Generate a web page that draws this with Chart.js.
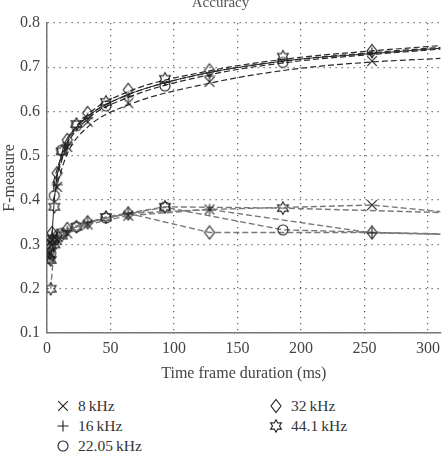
<!DOCTYPE html>
<html>
<head>
<meta charset="utf-8">
<script src="https://cdn.jsdelivr.net/npm/chart.js@4"></script>
<style>
body { margin: 0; background: #fff; }
#wrap { position: relative; width: 447px; height: 455px; overflow: hidden; font-family: "Liberation Serif", serif; color: #333; }
#graph { position: absolute; left: 0; top: -8px; }
.mk { position: absolute; }
.lt { position: absolute; font-size: 15.5px; line-height: 18px; white-space: nowrap; }
</style>
</head>
<body>
<div id="wrap">
<canvas id="graph" width="447" height="393"></canvas>
</div>
<script>
// frame durations (ms)
const durPow2 = [2, 4, 8, 16, 32, 64, 128, 256]          // 8, 16, 32 kHz
const durCd = [2.9, 5.8, 11.6, 23.2, 46.4, 92.9, 185.8]   // 22.05, 44.1 kHz
const xTicks = [0, 50, 100, 150, 200, 250, 300]

const rateLabels = ["8\u2009kHz", "16\u2009kHz", "22.05\u2009kHz", "32\u2009kHz", "44.1\u2009kHz"]
const rateMarks = ["x", "+", "o", "d", "h"]

// upper group (markers only)
const up8 = [0.28, 0.31, 0.43, 0.52, 0.577, 0.619, 0.667, 0.714]
const up16 = [0.285, 0.32, 0.435, 0.525, 0.585, 0.634, 0.68, 0.733]
const up22 = [0.30, 0.41, 0.513, 0.568, 0.613, 0.658, 0.711]
const up32 = [0.29, 0.326, 0.461, 0.536, 0.597, 0.649, 0.693, 0.737]
const up44 = [0.265, 0.385, 0.51, 0.572, 0.622, 0.674, 0.724]

// lower group (markers + grey dashed lines), lowAt310 = where each line ends at 310 ms
const low8 = [0.27, 0.30, 0.31, 0.325, 0.345, 0.365, 0.379, 0.389]
const low16 = [0.27, 0.30, 0.315, 0.33, 0.35, 0.37, 0.379, 0.326]
const low22 = [0.28, 0.31, 0.325, 0.34, 0.36, 0.384, 0.333]
const low32 = [0.27, 0.31, 0.32, 0.335, 0.35, 0.37, 0.327, 0.327]
const low44 = [0.20, 0.30, 0.32, 0.34, 0.362, 0.385, 0.382]
const lowAt310 = [0.374, 0.323, 0.323, 0.324, 0.372]

// fitted curves of the upper group
const fitX = [5, 8, 16, 32, 64, 128, 192, 256, 310]
const fit1 = [0.44, 0.47, 0.535, 0.593, 0.645, 0.692, 0.72, 0.737, 0.749]
const fit2 = [0.43, 0.46, 0.53, 0.588, 0.638, 0.688, 0.716, 0.733, 0.745]
const fit3 = [0.425, 0.455, 0.525, 0.583, 0.632, 0.683, 0.712, 0.729, 0.741]
const fit4 = [0.40, 0.435, 0.505, 0.565, 0.615, 0.664, 0.695, 0.712, 0.72]
const solidX = [2.9, 5.8, 11.6, 23.2, 46.4, 92.9, 185.8, 256, 310]
const solidY = [0.265, 0.40, 0.505, 0.565, 0.615, 0.665, 0.714, 0.731, 0.743]

function marker(kind) {
    const c = document.createElement("canvas")
    c.width = 16; c.height = 16
    const g = c.getContext("2d")
    g.strokeStyle = "#1e1e1e"
    g.lineWidth = 1.1
    g.translate(8, 8)
    g.beginPath()
    if (kind == "x") {
        g.moveTo(-4.8, -4.8); g.lineTo(4.8, 4.8); g.moveTo(4.8, -4.8); g.lineTo(-4.8, 4.8)
    } else if (kind == "+") {
        g.moveTo(-5.5, 0); g.lineTo(5.5, 0); g.moveTo(0, -5.5); g.lineTo(0, 5.5)
    } else if (kind == "o") {
        g.arc(0, 0, 5, 0, Math.PI * 2)
    } else if (kind == "d") {
        g.moveTo(0, -6.5); g.lineTo(5, 0); g.lineTo(0, 6.5); g.lineTo(-5, 0); g.closePath()
    } else {
        for (let k = 0; k < 12; k++) {
            const a = -Math.PI / 2 + k * Math.PI / 6
            const r = k % 2 ? 3.5 : 6.2
            k ? g.lineTo(r * Math.cos(a), r * Math.sin(a)) : g.moveTo(r * Math.cos(a), r * Math.sin(a))
        }
        g.closePath()
    }
    g.stroke()
    return c
}

const pts = (xs, ys) => ys.map((y, i) => ({x: xs[i], y: y}))

const upSets = [[durPow2, up8], [durPow2, up16], [durCd, up22], [durPow2, up32], [durCd, up44]]
const lowSets = [[durPow2, low8], [durPow2, low16], [durCd, low22], [durPow2, low32], [durCd, low44]]

let datasets = []
upSets.forEach(([xs, ys], i) => {
    datasets.push({
        data: pts(xs, ys),
        showLine: false,
        pointStyle: marker(rateMarks[i]),
        pointRadius: 5
    })
})
lowSets.forEach(([xs, ys], i) => {
    datasets.push({
        data: pts(xs.concat([310]), ys.concat([lowAt310[i]])),
        borderColor: "#7a7a7a",
        borderWidth: 1.4,
        borderDash: [6, 3],
        pointStyle: marker(rateMarks[i]),
        pointRadius: ys.map(() => 5).concat([0])
    })
})
;[fit1, fit2, fit3, fit4].forEach(f => {
    datasets.push({
        data: pts(fitX, f),
        borderColor: "#2a2a2a",
        borderWidth: 1.2,
        borderDash: [6, 3],
        pointRadius: 0,
        cubicInterpolationMode: "monotone"
    })
})
datasets.push({
    data: pts(solidX, solidY),
    borderColor: "#222",
    borderWidth: 1,
    pointRadius: 0,
    cubicInterpolationMode: "monotone"
})

const font = {family: "'Liberation Serif', serif", size: 16}

new Chart(document.getElementById("graph"), {
    type: "line",
    data: {datasets: datasets},
    options: {
        responsive: false,
        animation: false,
        layout: {padding: {left: 0, right: 6, top: 0, bottom: 0}},
        plugins: {
            legend: {display: false},
            tooltip: {enabled: false},
            title: {
                display: true,
                text: "Accuracy",
                color: "#555",
                font: {family: "'Liberation Serif', serif", size: 15, weight: "normal"},
                padding: {top: 2, bottom: 11}
            }
        },
        scales: {
            x: {
                type: "linear",
                min: 0,
                max: 310,
                ticks: {color: "#444", font: font, padding: 6},
                afterBuildTicks: s => { s.ticks = xTicks.map(v => ({value: v})) },
                afterFit: s => { s.height = 52 },
                grid: {color: "#666", lineWidth: 1.3, drawTicks: false},
                border: {color: "#777", width: 1.5, dash: [1.3, 4.7]},
                title: {display: true, text: "Time frame duration (ms)", color: "#444", font: font, padding: {top: 4, bottom: 1.5}}
            },
            y: {
                min: 0.1,
                max: 0.8,
                ticks: {stepSize: 0.1, color: "#444", font: font, padding: 7, callback: v => v.toFixed(1)},
                afterFit: s => { s.width = 47 },
                grid: {color: "#666", lineWidth: 1.3, drawTicks: false},
                border: {color: "#777", width: 1.5, dash: [1.3, 4.7]},
                title: {display: true, text: "F-measure", color: "#444", font: font, padding: 0}
            }
        }
    }
})

// legend below the chart, two columns
const legendPos = [[63, 406], [63, 426], [63, 446], [276, 406], [276, 426]]
const wrap = document.getElementById("wrap")
rateLabels.forEach((lab, i) => {
    const [cx, cy] = legendPos[i]
    const m = marker(rateMarks[i])
    m.className = "mk"
    m.style.left = (cx - 8) + "px"
    m.style.top = (cy - 8) + "px"
    wrap.appendChild(m)
    const t = document.createElement("div")
    t.className = "lt"
    t.textContent = lab
    t.style.left = (cx + 15) + "px"
    t.style.top = (cy - 9) + "px"
    wrap.appendChild(t)
})
</script>
</body>
</html>
